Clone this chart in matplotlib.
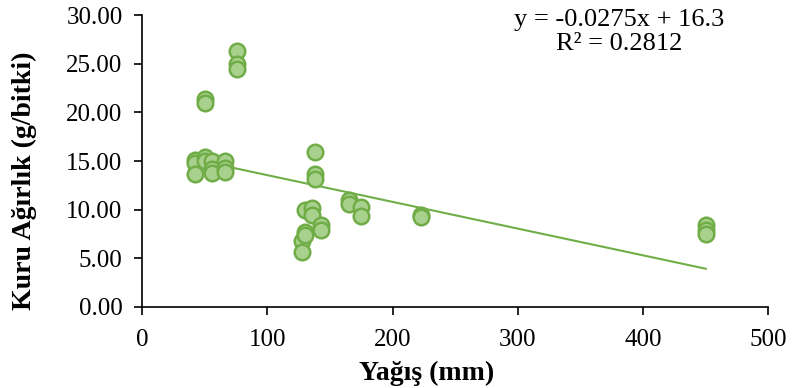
import matplotlib.pyplot as plt
import numpy as np

plt.rcParams['font.family'] = ['Liberation Serif', 'DejaVu Serif']

# yağış (mm) ve kuru ağırlık (g/bitki)
yagis = [42, 42, 42, 50, 50, 50, 50, 56, 56, 56, 66, 66, 66, 76, 76, 76,
         128, 128, 130, 130, 130, 136, 136, 138, 138, 138, 143, 143,
         165, 165, 175, 175, 223, 223, 450, 450, 450]
kuru = [15.1, 14.8, 13.7, 21.4, 21.0, 15.4, 15.0, 15.0, 14.2, 13.8, 15.0, 14.3, 13.9,
        26.3, 25.0, 24.5,
        6.8, 5.6, 10.0, 7.7, 7.4, 10.2, 9.4, 15.9, 13.7, 13.2, 8.4, 7.9,
        11.0, 10.6, 10.3, 9.3, 9.4, 9.2, 8.4, 7.9, 7.5]

egim = -0.0275
kesisim = 16.3
r2 = 0.2812

fig = plt.figure(figsize=(7.93, 3.88), dpi=100)
ax = fig.add_axes([0.179, 0.209, 0.79, 0.752])

ax.scatter(yagis, kuru, s=125, facecolor='#A9D18E', edgecolor='#70AD47',
           linewidths=1.8, zorder=3)

xs = np.array([min(yagis), max(yagis)])
ax.plot(xs, egim * xs + kesisim, color='#70AD47', lw=1.5, zorder=2)

ax.set_xlim(0, 500)
ax.set_ylim(0, 30)
ax.set_xticks([0, 100, 200, 300, 400, 500])
ax.set_yticks(np.arange(0, 31, 5))
ax.set_yticklabels(['%.2f' % v for v in np.arange(0, 31, 5)])
ax.spines['top'].set_visible(False)
ax.spines['right'].set_visible(False)
ax.spines['left'].set_linewidth(1.2)
ax.spines['bottom'].set_linewidth(1.2)
ax.tick_params(direction='out', length=6, width=1.2, labelsize=18, colors='black')
ax.tick_params(axis='y', pad=8)
ax.tick_params(axis='x', pad=10)

ax.set_xlabel('Yağış (mm)', fontsize=20, fontweight='bold')
ax.set_ylabel('Kuru Ağırlık (g/bitki)', fontsize=20, fontweight='bold')
ax.xaxis.set_label_coords(0.455, -0.185)
ax.yaxis.set_label_coords(-0.168, 0.432)

ax.text(381, 28.3, 'y = -0.0275x + 16.3\nR² = 0.2812', ha='center', va='center',
        fontsize=19, linespacing=1.12, clip_on=False)

fig.savefig('out.png', dpi=100)
